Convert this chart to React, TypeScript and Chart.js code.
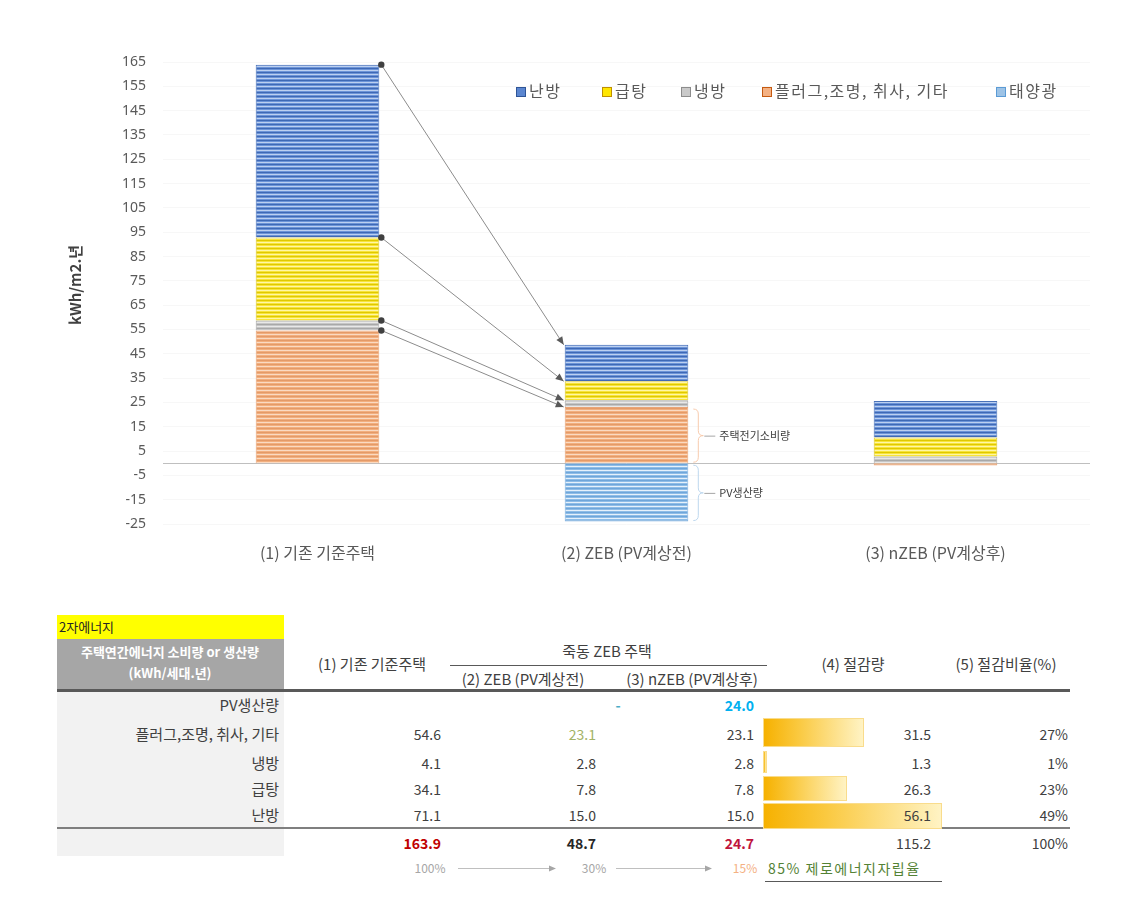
import React, { useEffect, useRef } from 'react';
import { Chart, registerables } from 'chart.js';

Chart.register(...registerables);

// ---------- chart data ----------
const categories = ['(1) 기존 기준주택', '(2) ZEB (PV계상전)', '(3) nZEB (PV계상후)'];
const plugValues = [54.6, 23.1, -0.9];
const coolValues = [4.1, 2.8, 2.8];
const hotWaterValues = [34.1, 7.8, 7.8];
const heatValues = [71.1, 15.0, 15.0];
const pvValues = [0, -24.0, 0];
const yTickValues = [-25, -15, -5, 5, 15, 25, 35, 45, 55, 65, 75, 85, 95, 105, 115, 125, 135, 145, 155, 165];
const legendNames = ['난방', '급탕', '냉방', '플러그,조명, 취사, 기타', '태양광'];
const bracketLabels = ['주택전기소비량', 'PV생산량'];
const yTitle = 'kWh/m2.년';

// ---------- table data ----------
const tableTag = '2자에너지';
const tableCorner = ['주택연간에너지 소비량 or 생산량', '(kWh/세대.년)'];
const headBase = '(1) 기존 기준주택';
const headGroup = '죽동 ZEB 주택';
const headZeb = '(2) ZEB (PV계상전)';
const headNzeb = '(3) nZEB (PV계상후)';
const headSaving = '(4) 절감량';
const headRatio = '(5) 절감비율(%)';
const rowLabels = ['PV생산량', '플러그,조명, 취사, 기타', '냉방', '급탕', '난방'];
const baseCol = ['', '54.6', '4.1', '34.1', '71.1'];
const zebCol = ['-', '23.1', '2.8', '7.8', '15.0'];
const nzebCol = ['24.0', '23.1', '2.8', '7.8', '15.0'];
const savingValues = [0, 31.5, 1.3, 26.3, 56.1];
const savingRatios = ['', '27%', '1%', '23%', '49%'];
const totals = ['163.9', '48.7', '24.7', '115.2', '100%'];
const ratioRow = ['100%', '30%', '15%', '85% 제로에너지자립율'];

const FONT = '"Noto Sans CJK KR", "Noto Sans", sans-serif';

function stripe(base: string, light: string, dark: string) {
  const c = document.createElement('canvas');
  c.width = 4;
  c.height = 4;
  const g = c.getContext('2d')!;
  g.fillStyle = base;
  g.fillRect(0, 0, 4, 4);
  g.fillStyle = light;
  g.fillRect(0, 2, 4, 1);
  g.fillStyle = dark;
  g.fillRect(0, 0, 4, 1);
  return g.createPattern(c, 'repeat')!;
}

function drawBrace(ctx: CanvasRenderingContext2D, x: number, top: number, bottom: number, color: string, label: string) {
  const mid = (top + bottom) / 2;
  const r = 5;
  ctx.save();
  ctx.strokeStyle = color;
  ctx.lineWidth = 1;
  ctx.beginPath();
  ctx.moveTo(x, top);
  ctx.quadraticCurveTo(x + r, top, x + r, top + r);
  ctx.lineTo(x + r, mid - r);
  ctx.quadraticCurveTo(x + r, mid, x + 2 * r, mid);
  ctx.quadraticCurveTo(x + r, mid, x + r, mid + r);
  ctx.lineTo(x + r, bottom - r);
  ctx.quadraticCurveTo(x + r, bottom, x, bottom);
  ctx.stroke();
  ctx.strokeStyle = '#A6A6A6';
  ctx.beginPath();
  ctx.moveTo(x + 2 * r + 1, mid + 0.5);
  ctx.lineTo(x + 2 * r + 12, mid + 0.5);
  ctx.stroke();
  ctx.fillStyle = '#404040';
  ctx.font = '11px ' + FONT;
  ctx.textBaseline = 'middle';
  ctx.textAlign = 'left';
  ctx.fillText(label, x + 2 * r + 16, mid);
  ctx.restore();
}

const annotations = {
  id: 'annotations',
  beforeDatasetsDraw(chart: any) {
    const { ctx, chartArea, scales } = chart;
    const y0 = Math.round(scales.y.getPixelForValue(0)) + 0.5;
    ctx.save();
    ctx.strokeStyle = '#BFBFBF';
    ctx.lineWidth = 1;
    ctx.beginPath();
    ctx.moveTo(chartArea.left, y0);
    ctx.lineTo(chartArea.right, y0);
    ctx.stroke();
    ctx.translate(75, (chartArea.top + chartArea.bottom) / 2 - 8);
    ctx.rotate(-Math.PI / 2);
    ctx.fillStyle = '#404040';
    ctx.font = 'bold 15px ' + FONT;
    ctx.textAlign = 'center';
    ctx.textBaseline = 'middle';
    ctx.fillText(yTitle, 0, 0);
    ctx.restore();
  },
  afterDatasetsDraw(chart: any) {
    const { ctx } = chart;
    const order = [3, 2, 1, 0];
    ctx.save();
    order.forEach((di) => {
      const meta = chart.getDatasetMeta(di);
      const a = meta.data[0];
      const b = meta.data[1];
      const x1 = a.x + a.width / 2 + 2;
      const y1 = a.y;
      const x2 = b.x - b.width / 2 - 1;
      const y2 = b.y;
      ctx.strokeStyle = '#8C8C8C';
      ctx.lineWidth = 1;
      ctx.beginPath();
      ctx.moveTo(x1, y1);
      ctx.lineTo(x2, y2);
      ctx.stroke();
      const ang = Math.atan2(y2 - y1, x2 - x1);
      const L = 8;
      const W = 3.5;
      ctx.fillStyle = '#595959';
      ctx.beginPath();
      ctx.moveTo(x2, y2);
      ctx.lineTo(x2 - L * Math.cos(ang) + W * Math.sin(ang), y2 - L * Math.sin(ang) - W * Math.cos(ang));
      ctx.lineTo(x2 - L * Math.cos(ang) - W * Math.sin(ang), y2 - L * Math.sin(ang) + W * Math.cos(ang));
      ctx.closePath();
      ctx.fill();
      ctx.fillStyle = '#404040';
      ctx.beginPath();
      ctx.arc(x1, y1, 3.2, 0, Math.PI * 2);
      ctx.fill();
    });
    ctx.restore();
    const plug = chart.getDatasetMeta(0).data[1];
    const pv = chart.getDatasetMeta(4).data[1];
    drawBrace(ctx, plug.x + plug.width / 2 + 5, Math.min(plug.y, plug.base) + 2, Math.max(plug.y, plug.base) - 1, '#F8CBAD', bracketLabels[0]);
    drawBrace(ctx, pv.x + pv.width / 2 + 5, Math.min(pv.y, pv.base) + 2, Math.max(pv.y, pv.base) - 1, '#BDD7EE', bracketLabels[1]);
  },
};

const legendColors = [
  { fill: '#5B86D0', border: '#2F5597' },
  { fill: '#FFE600', border: '#BF9000' },
  { fill: '#C9C9C9', border: '#8C8C8C' },
  { fill: '#F4B183', border: '#C55A11' },
  { fill: '#9DC3E6', border: '#5B9BD5' },
];
const legendLefts = [516, 602, 681, 762, 996];

function Txt(props: { x: number; y: number; align?: 'left' | 'right' | 'center'; children: any; style?: any }) {
  const { x, y, align = 'right', children, style } = props;
  const base: any = { position: 'absolute', top: y - 10, lineHeight: '20px', height: 20, whiteSpace: 'nowrap', fontFamily: FONT, fontSize: 14, color: '#404040' };
  if (align === 'right') Object.assign(base, { left: x - 300, width: 300, textAlign: 'right' });
  else if (align === 'center') Object.assign(base, { left: x - 150, width: 300, textAlign: 'center' });
  else Object.assign(base, { left: x });
  return <div style={{ ...base, ...style }}>{children}</div>;
}

export default function App() {
  const ref = useRef<HTMLCanvasElement>(null);

  useEffect(() => {
    const heat = stripe('#6C94D8', '#BCD0F0', '#3F69B5');
    const hot = stripe('#F7E43A', '#FFF6A6', '#E0C800');
    const cool = stripe('#C6C6C6', '#E8E8E8', '#A8A8A8');
    const plug = stripe('#F2AF7E', '#FADAC2', '#E49A68');
    const pv = stripe('#8FBDE7', '#E6F1FB', '#6FA6DA');
    const common = { barPercentage: 0.4, categoryPercentage: 1, borderWidth: 1 };
    const chart = new Chart(ref.current!, {
      type: 'bar',
      data: {
        labels: categories,
        datasets: [
          { label: legendNames[3], data: plugValues, backgroundColor: plug as any, borderColor: '#E9A476', ...common },
          { label: legendNames[2], data: coolValues, backgroundColor: cool as any, borderColor: '#A5A5A5', ...common },
          { label: legendNames[1], data: hotWaterValues, backgroundColor: hot as any, borderColor: '#D9C52A', ...common },
          { label: legendNames[0], data: heatValues, backgroundColor: heat as any, borderColor: '#4A72B8', ...common },
          { label: legendNames[4], data: pvValues, backgroundColor: pv as any, borderColor: '#7FB0DE', ...common },
        ],
      },
      options: {
        responsive: false,
        animation: false,
        devicePixelRatio: 1,
        layout: { padding: { top: 62, right: 31, left: 0, bottom: 0 } },
        plugins: { legend: { display: false }, tooltip: { enabled: false } },
        scales: {
          x: {
            stacked: true,
            grid: { display: false, drawTicks: false },
            border: { display: false },
            ticks: { padding: 19, color: '#595959', font: { family: FONT, size: 16 } },
            afterFit: (s: any) => { s.height = 66; },
          },
          y: {
            stacked: true,
            min: -25,
            max: 165,
            grid: { color: '#F7F7F7', drawTicks: false },
            border: { display: false },
            ticks: { padding: 17, color: '#595959', font: { family: '"Noto Sans", sans-serif', size: 14 } },
            afterBuildTicks: (s: any) => { s.ticks = yTickValues.map((v) => ({ value: v })); },
            afterFit: (s: any) => { s.width = 163; },
          },
        },
      },
      plugins: [annotations],
    });
    return () => chart.destroy();
  }, []);

  const rowY = [705, 734, 763, 789, 815];
  const barTop = [718, 751, 776, 803];
  const barBottom = [747, 773, 801, 829];
  const barLeft = 763;
  const barScale = 179 / 56.1;

  return (
    <div style={{ position: 'absolute', left: 0, top: 0, width: 1121, height: 898, background: '#fff', fontFamily: FONT, overflow: 'hidden' }}>
      <canvas ref={ref} width={1121} height={590} style={{ position: 'absolute', left: 0, top: 0 }} />

      {legendNames.map((n, i) => (
        <div key={n} style={{ position: 'absolute', left: legendLefts[i], top: 79, height: 22, lineHeight: '22px', whiteSpace: 'nowrap', fontSize: 16, letterSpacing: 1.5, color: '#595959', fontFamily: FONT }}>
          <span style={{ display: 'inline-block', width: 8, height: 8, background: legendColors[i].fill, border: '1px solid ' + legendColors[i].border, marginRight: 3, verticalAlign: 'middle', position: 'relative', top: -1 }} />
          {n}
        </div>
      ))}

      {/* table */}
      <div style={{ position: 'absolute', left: 57, top: 615, width: 227, height: 24, background: '#FFFF00', fontSize: 13, lineHeight: '24px', color: '#262626', paddingLeft: 2, boxSizing: 'border-box' }}>{tableTag}</div>
      <div style={{ position: 'absolute', left: 57, top: 639, width: 227, height: 51, background: '#A6A6A6' }} />
      <Txt x={170} y={652} align="center" style={{ color: '#fff', fontWeight: 'bold', fontSize: 13 }}>{tableCorner[0]}</Txt>
      <Txt x={170} y={673} align="center" style={{ color: '#fff', fontWeight: 'bold', fontSize: 13 }}>{tableCorner[1]}</Txt>
      <div style={{ position: 'absolute', left: 57, top: 692, width: 227, height: 164, background: '#F2F2F2' }} />
      <div style={{ position: 'absolute', left: 57, top: 689, width: 1013, height: 3, background: '#595959' }} />
      <div style={{ position: 'absolute', left: 57, top: 827, width: 1013, height: 2, background: '#7F7F7F' }} />

      <Txt x={372} y={664} align="center" style={{ fontSize: 15 }}>{headBase}</Txt>
      <Txt x={607} y={651} align="center" style={{ fontSize: 15 }}>{headGroup}</Txt>
      <div style={{ position: 'absolute', left: 450, top: 665, width: 317, height: 1, background: '#595959' }} />
      <Txt x={523} y={679} align="center" style={{ fontSize: 15 }}>{headZeb}</Txt>
      <Txt x={692} y={679} align="center" style={{ fontSize: 15 }}>{headNzeb}</Txt>
      <Txt x={853} y={664} align="center" style={{ fontSize: 15 }}>{headSaving}</Txt>
      <Txt x={1006} y={664} align="center" style={{ fontSize: 15 }}>{headRatio}</Txt>

      {savingValues.map((v, i) =>
        i === 0 ? null : (
          <div key={'b' + i} style={{ position: 'absolute', left: barLeft, top: barTop[i - 1], width: v * barScale, height: barBottom[i - 1] - barTop[i - 1], background: 'linear-gradient(to right, #F6B100 0%, #FAC940 35%, #FFF3C4 100%)', boxSizing: 'border-box', border: '1px solid #F9DC8C' }} />
        )
      )}

      {rowLabels.map((l, i) => (
        <React.Fragment key={'r' + i}>
          <Txt x={279} y={rowY[i]} style={{ fontSize: 15 }}>{l}</Txt>
          <Txt x={441} y={rowY[i]}>{baseCol[i]}</Txt>
          {i === 0 ? (
            <Txt x={618} y={rowY[i]} align="center" style={{ color: '#4BACC6', fontWeight: 'bold' }}>{zebCol[i]}</Txt>
          ) : (
            <Txt x={596} y={rowY[i]} style={i === 1 ? { color: '#A3B366' } : undefined}>{zebCol[i]}</Txt>
          )}
          <Txt x={754} y={rowY[i]} style={i === 0 ? { color: '#00B0F0', fontWeight: 'bold' } : undefined}>{nzebCol[i]}</Txt>
          <Txt x={931} y={rowY[i]}>{i === 0 ? '' : savingValues[i].toFixed(1)}</Txt>
          <Txt x={1068} y={rowY[i]}>{savingRatios[i]}</Txt>
        </React.Fragment>
      ))}

      <Txt x={441} y={843} style={{ color: '#C00000', fontWeight: 'bold' }}>{totals[0]}</Txt>
      <Txt x={596} y={843} style={{ color: '#262626', fontWeight: 'bold' }}>{totals[1]}</Txt>
      <Txt x={754} y={843} style={{ color: '#C0143C', fontWeight: 'bold' }}>{totals[2]}</Txt>
      <Txt x={931} y={843}>{totals[3]}</Txt>
      <Txt x={1068} y={843}>{totals[4]}</Txt>

      <Txt x={430} y={868} align="center" style={{ color: '#A6A6A6', fontSize: 12 }}>{ratioRow[0]}</Txt>
      <Txt x={594} y={868} align="center" style={{ color: '#A6A6A6', fontSize: 12 }}>{ratioRow[1]}</Txt>
      <Txt x={745} y={868} align="center" style={{ color: '#F4B183', fontSize: 12 }}>{ratioRow[2]}</Txt>
      <Txt x={768} y={868} align="left" style={{ color: '#548235', fontSize: 14, letterSpacing: 1.5 }}>{ratioRow[3]}</Txt>
      <div style={{ position: 'absolute', left: 765, top: 881, width: 177, height: 1, background: '#595959' }} />
      <svg width={1121} height={898} style={{ position: 'absolute', left: 0, top: 0, pointerEvents: 'none' }}>
        <line x1={458} y1={868.5} x2={550} y2={868.5} stroke="#BFBFBF" strokeWidth={1} />
        <polygon points="556,868.5 549,865.5 549,871.5" fill="#A6A6A6" />
        <line x1={616} y1={868.5} x2={706} y2={868.5} stroke="#BFBFBF" strokeWidth={1} />
        <polygon points="712,868.5 705,865.5 705,871.5" fill="#A6A6A6" />
      </svg>
    </div>
  );
}
